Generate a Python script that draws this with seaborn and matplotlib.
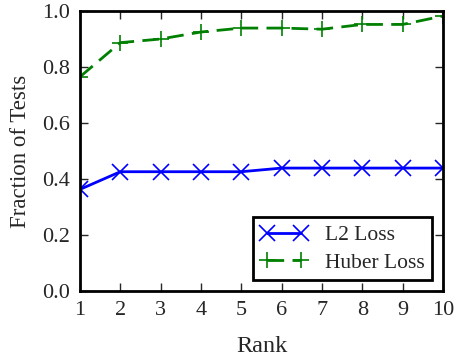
import matplotlib
matplotlib.use("Agg")
import matplotlib.pyplot as plt
import seaborn as sns
import pandas as pd

rank = [1, 2, 3, 4, 5, 6, 7, 8, 9, 10]
l2_loss = [0.363, 0.426, 0.426, 0.426, 0.426, 0.439, 0.439, 0.439, 0.439, 0.439]
huber_loss = [0.765, 0.887, 0.900, 0.925, 0.939, 0.939, 0.935, 0.952, 0.952, 0.982]

sns.set_style("ticks")
plt.rcParams['font.family'] = ['Liberation Serif', 'DejaVu Serif']
plt.rcParams['mathtext.fontset'] = 'stix'

df = pd.DataFrame({
    "Rank": rank * 2,
    "Fraction": l2_loss + huber_loss,
    "Series": ["L2 Loss"] * 10 + ["Huber Loss"] * 10,
})

fig = plt.figure(figsize=(4.58, 3.6), dpi=100)
ax = fig.add_axes([80/458, 1 - 291/360, (443-80)/458, (291-11)/360])

blue = "#0000ff"
green = (0, 0.5, 0)
sns.lineplot(data=df[df.Series == "L2 Loss"], x="Rank", y="Fraction", ax=ax,
             color=blue, linewidth=2, marker="x", markersize=12, markeredgewidth=1.2,
             markeredgecolor=blue, label="L2 Loss", linestyle="-")
sns.lineplot(data=df[df.Series == "Huber Loss"], x="Rank", y="Fraction", ax=ax,
             color=green, linewidth=2, marker="+", markersize=12, markeredgewidth=1.2,
             markeredgecolor=green, label="Huber Loss", dashes=False)
ax.lines[1].set_linestyle((0, (6, 3)))

ax.set_xlim(1, 10)
ax.set_ylim(0, 1)
ax.set_xticks(range(1, 11))
ax.set_yticks([0.0, 0.2, 0.4, 0.6, 0.8, 1.0])
ax.set_yticklabels(["0.0", "0.2", "0.4", "0.6", "0.8", "1.0"])
ax.set_xlabel("Rank", fontsize=17.5, labelpad=12)
ax.set_ylabel("Fraction of Tests", fontsize=16.5, labelpad=8)
ax.tick_params(direction="in", top=True, right=True, labelsize=16, length=6, width=1, pad=7)
for s in ax.spines.values():
    s.set_linewidth(2)
    s.set_color("black")

leg = ax.legend(loc="lower right", fontsize=15.5, numpoints=2, fancybox=False,
                framealpha=1, edgecolor="black", borderaxespad=0.5, handlelength=2.2,
                borderpad=0.35, labelspacing=0.35, handletextpad=0.8)
leg.get_frame().set_linewidth(2)
leg.get_lines()[1].set_linestyle((0, (6, 3)))

fig.savefig("out.png", dpi=100)
